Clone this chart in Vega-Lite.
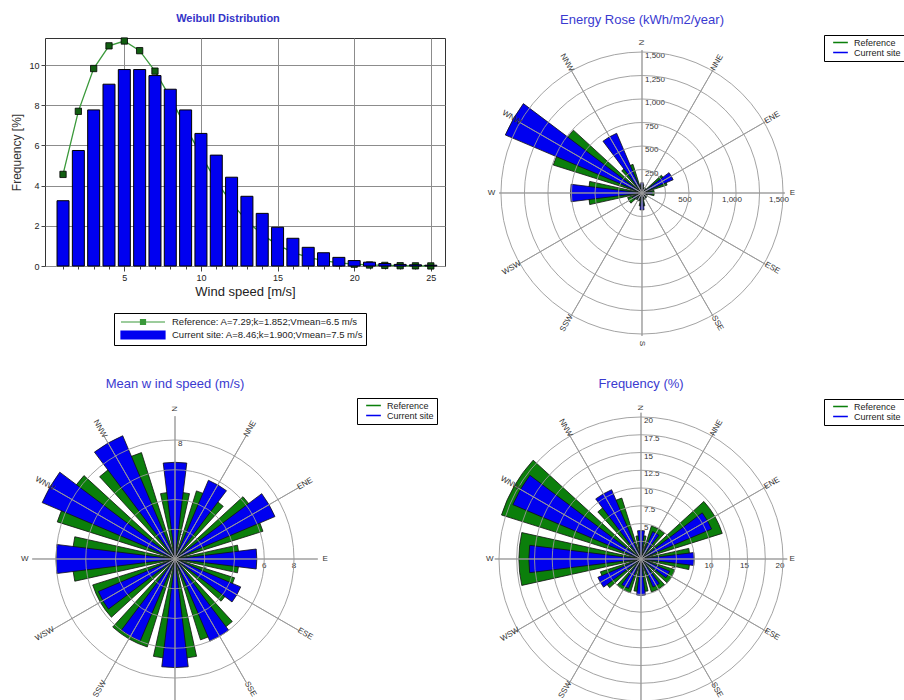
{
  "$schema": "https://vega.github.io/schema/vega-lite/v6.json",
  "padding": {"left": 10, "top": 12, "right": 0, "bottom": 0},
  "background": "white",
  "config": {"font": "Liberation Sans", "view": {"stroke": null}},
  "datasets": {
    "weibull": [
      {"speed": 1, "cur": 3.25, "ref": 4.56}, {"speed": 2, "cur": 5.75, "ref": 7.7}, {"speed": 3, "cur": 7.77, "ref": 9.83},
      {"speed": 4, "cur": 9.05, "ref": 10.96}, {"speed": 5, "cur": 9.78, "ref": 11.2}, {"speed": 6, "cur": 9.78, "ref": 10.72},
      {"speed": 7, "cur": 9.48, "ref": 9.7}, {"speed": 8, "cur": 8.8, "ref": 8.38}, {"speed": 9, "cur": 7.77, "ref": 6.94},
      {"speed": 10, "cur": 6.6, "ref": 5.52}, {"speed": 11, "cur": 5.52, "ref": 4.23}, {"speed": 12, "cur": 4.42, "ref": 3.13},
      {"speed": 13, "cur": 3.47, "ref": 2.25}, {"speed": 14, "cur": 2.62, "ref": 1.56}, {"speed": 15, "cur": 1.93, "ref": 1.05},
      {"speed": 16, "cur": 1.38, "ref": 0.68}, {"speed": 17, "cur": 0.93, "ref": 0.43}, {"speed": 18, "cur": 0.66, "ref": 0.27},
      {"speed": 19, "cur": 0.43, "ref": 0.16}, {"speed": 20, "cur": 0.27, "ref": 0.09}, {"speed": 21, "cur": 0.19, "ref": 0.05},
      {"speed": 22, "cur": 0.12, "ref": 0.03}, {"speed": 23, "cur": 0.08, "ref": 0.015}, {"speed": 24, "cur": 0.06, "ref": 0.008},
      {"speed": 25, "cur": 0.04, "ref": 0.004}
    ],
    "energy": [
      {"dir": "N", "deg": 0, "ref": 90, "cur": 110}, {"dir": "NNE", "deg": 30, "ref": 60, "cur": 50},
      {"dir": "ENE", "deg": 60, "ref": 280, "cur": 360}, {"dir": "E", "deg": 90, "ref": 130, "cur": 110},
      {"dir": "ESE", "deg": 120, "ref": 60, "cur": 50}, {"dir": "SSE", "deg": 150, "ref": 70, "cur": 60},
      {"dir": "S", "deg": 180, "ref": 140, "cur": 180}, {"dir": "SSW", "deg": 210, "ref": 90, "cur": 80},
      {"dir": "WSW", "deg": 240, "ref": 160, "cur": 110}, {"dir": "W", "deg": 270, "ref": 570, "cur": 760},
      {"dir": "WNW", "deg": 300, "ref": 990, "cur": 1580}, {"dir": "NNW", "deg": 330, "ref": 320, "cur": 690}
    ],
    "speed": [
      {"dir": "N", "deg": 0, "ref": 4.5, "cur": 6.5}, {"dir": "NNE", "deg": 30, "ref": 4.8, "cur": 5.75},
      {"dir": "ENE", "deg": 60, "ref": 6.2, "cur": 7.3}, {"dir": "E", "deg": 90, "ref": 4.3, "cur": 5.5},
      {"dir": "ESE", "deg": 120, "ref": 4.2, "cur": 4.8}, {"dir": "SSE", "deg": 150, "ref": 5.7, "cur": 6.0},
      {"dir": "S", "deg": 180, "ref": 6.7, "cur": 7.3}, {"dir": "SSW", "deg": 210, "ref": 6.2, "cur": 6.0},
      {"dir": "WSW", "deg": 240, "ref": 5.8, "cur": 5.6}, {"dir": "W", "deg": 270, "ref": 6.9, "cur": 8.0},
      {"dir": "WNW", "deg": 300, "ref": 8.3, "cur": 9.7}, {"dir": "NNW", "deg": 330, "ref": 7.5, "cur": 9.0}
    ],
    "freq": [
      {"dir": "N", "deg": 0, "ref": 3.3, "cur": 4.0}, {"dir": "NNE", "deg": 30, "ref": 4.9, "cur": 4.2},
      {"dir": "ENE", "deg": 60, "ref": 12.0, "cur": 10.8}, {"dir": "E", "deg": 90, "ref": 6.9, "cur": 7.5},
      {"dir": "ESE", "deg": 120, "ref": 5.0, "cur": 4.4}, {"dir": "SSE", "deg": 150, "ref": 4.9, "cur": 4.3},
      {"dir": "S", "deg": 180, "ref": 4.6, "cur": 5.1}, {"dir": "SSW", "deg": 210, "ref": 5.0, "cur": 4.5},
      {"dir": "WSW", "deg": 240, "ref": 6.0, "cur": 6.6}, {"dir": "W", "deg": 270, "ref": 17.2, "cur": 15.8},
      {"dir": "WNW", "deg": 300, "ref": 20.6, "cur": 19.6}, {"dir": "NNW", "deg": 330, "ref": 9.0, "cur": 10.6}
    ],
    "energyRings": [{"r": 250}, {"r": 500}, {"r": 750}, {"r": 1000}, {"r": 1250}, {"r": 1500}],
    "energyE": [{"r": 500}, {"r": 1000}, {"r": 1500}],
    "speedRings": [{"r": 2}, {"r": 4}, {"r": 6}, {"r": 8}],
    "freqRings": [{"r": 2.5}, {"r": 5}, {"r": 7.5}, {"r": 10}, {"r": 12.5}, {"r": 15}, {"r": 17.5}, {"r": 20}],
    "freqE": [{"r": 5}, {"r": 10}, {"r": 15}, {"r": 20}]
  },
  "columns": 2,
  "spacing": {"row": 32, "column": 20},
  "bounds": "flush",
  "align": "all",
  "resolve": {
    "scale": {"x": "independent", "y": "independent", "color": "independent", "theta": "independent", "radius": "independent", "angle": "independent"},
    "legend": {"color": "independent"}
  },
  "concat": [
    {
      "width": 400, "height": 228,
      "view": {"stroke": "#333"},
      "title": {"text": "Weibull Distribution", "fontSize": 11, "fontWeight": "bold", "color": "#3434c8", "anchor": "middle", "frame": "bounds", "offset": 1, "baseline": "bottom"},
      "data": {"name": "weibull"},
      "encoding": {
        "x": {"field": "speed", "type": "quantitative", "scale": {"domain": [0.15, 25.6], "nice": false, "zero": false},
          "axis": {"values": [1,2,3,4,5,6,7,8,9,10,11,12,13,14,15,16,17,18,19,20,21,22,23,24,25],
            "labelExpr": "datum.value % 5 === 0 ? datum.label : ''", "labelFontSize": 9, "labelColor": "#222", "labelPadding": 2,
            "title": "Wind speed [m/s]", "titleFontSize": 13, "titleFontWeight": "normal", "titleColor": "#222", "titlePadding": 3,
            "tickColor": "#444", "tickSize": {"condition": {"test": "datum.value % 5 === 0", "value": 5}, "value": 3},
            "grid": true, "gridColor": "#8c8c8c", "gridOpacity": {"condition": {"test": "datum.value % 5 === 0", "value": 1}, "value": 0},
            "domain": false, "labelFlush": false, "labelOverlap": false}}
      },
      "layer": [
        {
          "mark": {"type": "line", "strokeWidth": 1.3},
          "encoding": {
            "y": {"field": "ref", "type": "quantitative", "scale": {"domain": [0, 11.35], "nice": false},
              "axis": {"values": [0,0.5,1,1.5,2,2.5,3,3.5,4,4.5,5,5.5,6,6.5,7,7.5,8,8.5,9,9.5,10,10.5,11],
                "labelExpr": "datum.value % 1 === 0 ? datum.label : ''", "labelFontSize": 9, "labelColor": "#222", "labelPadding": 2,
                "title": "Frequency [%]", "titleFontSize": 12, "titleFontWeight": "normal", "titleColor": "#333", "titlePadding": 5,
                "tickColor": "#444", "tickSize": {"condition": {"test": "datum.value % 1 === 0", "value": 4}, "value": 2},
                "grid": true, "gridColor": "#8c8c8c", "gridOpacity": {"condition": {"test": "datum.value % 1 === 0", "value": 1}, "value": 0},
                "domain": false, "labelOverlap": false}},
            "color": {"datum": "Reference: A=7.29;k=1.852;Vmean=6.5 m/s", "type": "nominal",
              "scale": {"domain": ["Reference: A=7.29;k=1.852;Vmean=6.5 m/s", "Current site: A=8.46;k=1.900;Vmean=7.5 m/s"], "range": ["#3a993a", "#0000f0"]},
              "legend": {"orient": "none", "legendX": 69, "legendY": 275, "title": null, "strokeColor": "#000", "fillColor": "white", "padding": 3,
                "labelFontSize": 9.5, "labelLimit": 300, "labelColor": "#222", "symbolSize": 100, "symbolOffset": 20, "labelOffset": 23, "rowPadding": 1,
                "encode": {"symbols": {"update": {
                  "shape": {"signal": "indexof(datum.value, 'Current') === 0 ? 'M-4.4,-0.8H4.4V0.8H-4.4Z' : 'M-4.4,0H-0.5M0.5,0H4.4M-0.5,-0.5H0.5V0.5H-0.5Z'"},
                  "fill": {"signal": "indexof(datum.value, 'Current') === 0 ? '#0000f0' : '#115e11'"},
                  "stroke": {"signal": "indexof(datum.value, 'Current') === 0 ? '#000' : '#3a993a'"},
                  "strokeWidth": {"value": 1.2}, "opacity": {"value": 1}, "fillOpacity": {"value": 1}}}}}}
          }
        },
        {
          "mark": {"type": "point", "shape": "square", "size": 40, "filled": true, "fill": "#115e11", "stroke": "#000", "strokeWidth": 0.8, "opacity": 1},
          "encoding": {"y": {"field": "ref", "type": "quantitative", "title": "Frequency [%]"}}
        },
        {
          "mark": {"type": "bar", "width": 12, "stroke": "#000", "strokeWidth": 1, "orient": "vertical"},
          "encoding": {
            "y": {"field": "cur", "type": "quantitative", "title": "Frequency [%]"},
            "color": {"datum": "Current site: A=8.46;k=1.900;Vmean=7.5 m/s", "type": "nominal"}
          }
        }
      ]
    },
    {
      "width": 354, "height": 310,
      "title": {"text": "Energy Rose (kWh/m2/year)", "fontSize": 13, "fontWeight": "normal", "color": "#3a3ad0", "anchor": "middle", "frame": "group", "offset": -5, "baseline": "bottom"},
      "layer": [
        {"data": {"name": "energyRings"}, "mark": {"type": "text", "align": "left", "baseline": "middle", "dx": 3, "dy": 4, "fontSize": 8, "color": "#333"},
          "encoding": {"theta": {"datum": 0, "type": "quantitative", "scale": {"domain": [0, 360], "range": [0, 6.2832]}},
            "radius": {"field": "r", "type": "quantitative", "stack": null, "scale": {"type": "linear", "domain": [0, 1500], "range": [0, 141], "zero": true, "nice": false}},
            "text": {"field": "r", "type": "quantitative", "format": ","}}},
        {"data": {"name": "energyE"}, "mark": {"type": "text", "align": "center", "baseline": "top", "dx": -4, "dy": 3, "fontSize": 8, "color": "#333"},
          "encoding": {"theta": {"datum": 90, "type": "quantitative"}, "radius": {"field": "r", "type": "quantitative", "stack": null}, "text": {"field": "r", "type": "quantitative", "format": ","}}},
        {"data": {"name": "energy"}, "mark": {"type": "arc", "thetaOffset": -0.2182, "theta2Offset": 0.2182, "stroke": "#111", "strokeWidth": 0.8},
          "encoding": {"theta": {"field": "deg", "type": "quantitative", "stack": null}, "theta2": {"field": "deg"},
            "radius": {"field": "ref", "type": "quantitative", "stack": null},
            "color": {"datum": "Reference", "type": "nominal", "scale": {"domain": ["Reference", "Current site"], "range": ["#0b7f0b", "#0000f0"]},
              "legend": {"orient": "none", "legendX": 359, "legendY": -3, "title": null, "strokeColor": "#000", "fillColor": "white", "padding": 3,
                "labelFontSize": 9, "labelColor": "#222", "symbolType": "M-2.1,-0.22H2.1V0.22H-2.1Z", "symbolSize": 49, "symbolOffset": 9, "labelOffset": 9, "rowPadding": 0,
                "symbolStrokeWidth": 0, "symbolStrokeColor": "transparent", "symbolOpacity": 1}}}},
        {"data": {"name": "energy"}, "mark": {"type": "arc", "thetaOffset": -0.1222, "theta2Offset": 0.1222, "stroke": "#111", "strokeWidth": 0.8},
          "encoding": {"theta": {"field": "deg", "type": "quantitative", "stack": null}, "theta2": {"field": "deg"},
            "radius": {"field": "cur", "type": "quantitative", "stack": null},
            "color": {"datum": "Current site", "type": "nominal"}}},
        {"data": {"name": "energyRings"}, "mark": {"type": "arc", "theta": 0, "theta2": 6.2832, "filled": false, "stroke": "#999", "strokeWidth": 1, "strokeOpacity": 0.9},
          "encoding": {"radius": {"field": "r", "type": "quantitative", "stack": null}}},
        {"data": {"name": "energy"}, "mark": {"type": "arc", "filled": false, "stroke": "#999", "strokeWidth": 1, "strokeOpacity": 0.9},
          "encoding": {"theta": {"field": "deg", "type": "quantitative", "stack": null}, "theta2": {"field": "deg"}, "radius": {"datum": 1520, "type": "quantitative"}}},
        {"data": {"name": "energy"}, "mark": {"type": "text", "align": "center", "baseline": "middle", "fontSize": 8, "color": "#333"},
          "encoding": {"theta": {"field": "deg", "type": "quantitative", "stack": null}, "radius": {"datum": 1600, "type": "quantitative"},
            "text": {"field": "dir", "type": "nominal"},
            "angle": {"field": "deg", "type": "quantitative", "scale": {"domain": [0, 180, 180.01, 360], "range": [-90, 90, -90, 90]}, "legend": null}}}
      ]
    },
    {
      "width": 260, "height": 326,
      "title": {"text": "Mean w ind speed (m/s)", "fontSize": 13, "fontWeight": "normal", "color": "#3a3ad0", "anchor": "middle", "frame": "group", "offset": -8, "baseline": "bottom"},
      "layer": [
        {"data": {"name": "speedRings"}, "mark": {"type": "text", "align": "left", "baseline": "middle", "dx": 3, "dy": 4, "fontSize": 8, "color": "#333"},
          "encoding": {"theta": {"datum": 0, "type": "quantitative", "scale": {"domain": [0, 360], "range": [0, 6.2832]}},
            "radius": {"field": "r", "type": "quantitative", "stack": null, "scale": {"type": "linear", "domain": [0, 8], "range": [0, 119], "zero": true, "nice": false}},
            "text": {"field": "r", "type": "quantitative", "format": "~g"}}},
        {"data": {"name": "speedRings"}, "mark": {"type": "text", "align": "center", "baseline": "top", "dy": 3, "fontSize": 8, "color": "#333"},
          "encoding": {"theta": {"datum": 90, "type": "quantitative"}, "radius": {"field": "r", "type": "quantitative", "stack": null}, "text": {"field": "r", "type": "quantitative", "format": "~g"}}},
        {"data": {"name": "speed"}, "mark": {"type": "arc", "thetaOffset": -0.2182, "theta2Offset": 0.2182, "stroke": "#111", "strokeWidth": 0.8},
          "encoding": {"theta": {"field": "deg", "type": "quantitative", "stack": null}, "theta2": {"field": "deg"},
            "radius": {"field": "ref", "type": "quantitative", "stack": null},
            "color": {"datum": "Reference", "type": "nominal", "scale": {"domain": ["Reference", "Current site"], "range": ["#0b7f0b", "#0000f0"]},
              "legend": {"orient": "none", "legendX": 312, "legendY": 2, "title": null, "strokeColor": "#000", "fillColor": "white", "padding": 3,
                "labelFontSize": 9, "labelColor": "#222", "symbolType": "M-2.1,-0.22H2.1V0.22H-2.1Z", "symbolSize": 49, "symbolOffset": 9, "labelOffset": 9, "rowPadding": 0,
                "symbolStrokeWidth": 0, "symbolStrokeColor": "transparent", "symbolOpacity": 1}}}},
        {"data": {"name": "speed"}, "mark": {"type": "arc", "thetaOffset": -0.1222, "theta2Offset": 0.1222, "stroke": "#111", "strokeWidth": 0.8},
          "encoding": {"theta": {"field": "deg", "type": "quantitative", "stack": null}, "theta2": {"field": "deg"},
            "radius": {"field": "cur", "type": "quantitative", "stack": null},
            "color": {"datum": "Current site", "type": "nominal"}}},
        {"data": {"name": "speedRings"}, "mark": {"type": "arc", "theta": 0, "theta2": 6.2832, "filled": false, "stroke": "#999", "strokeWidth": 1, "strokeOpacity": 0.9},
          "encoding": {"radius": {"field": "r", "type": "quantitative", "stack": null}}},
        {"data": {"name": "speed"}, "mark": {"type": "arc", "filled": false, "stroke": "#999", "strokeWidth": 1, "strokeOpacity": 0.9},
          "encoding": {"theta": {"field": "deg", "type": "quantitative", "stack": null}, "theta2": {"field": "deg"}, "radius": {"datum": 9.6, "type": "quantitative"}}},
        {"data": {"name": "speed"}, "mark": {"type": "text", "align": "center", "baseline": "middle", "fontSize": 8, "color": "#333"},
          "encoding": {"theta": {"field": "deg", "type": "quantitative", "stack": null}, "radius": {"datum": 10.1, "type": "quantitative"},
            "text": {"field": "dir", "type": "nominal"},
            "angle": {"field": "deg", "type": "quantitative", "scale": {"domain": [0, 180, 180.01, 360], "range": [-90, 90, -90, 90]}, "legend": null}}}
      ]
    },
    {
      "width": 352, "height": 326,
      "title": {"text": "Frequency (%)", "fontSize": 13, "fontWeight": "normal", "color": "#3a3ad0", "anchor": "middle", "frame": "group", "offset": -8, "baseline": "bottom"},
      "layer": [
        {"data": {"name": "freqRings"}, "mark": {"type": "text", "align": "left", "baseline": "middle", "dx": 3, "dy": 4, "fontSize": 8, "color": "#333"},
          "encoding": {"theta": {"datum": 0, "type": "quantitative", "scale": {"domain": [0, 360], "range": [0, 6.2832]}},
            "radius": {"field": "r", "type": "quantitative", "stack": null, "scale": {"type": "linear", "domain": [0, 20], "range": [0, 142], "zero": true, "nice": false}},
            "text": {"field": "r", "type": "quantitative", "format": "~g"}}},
        {"data": {"name": "freqE"}, "mark": {"type": "text", "align": "center", "baseline": "top", "dx": -3, "dy": 3, "fontSize": 8, "color": "#333"},
          "encoding": {"theta": {"datum": 90, "type": "quantitative"}, "radius": {"field": "r", "type": "quantitative", "stack": null}, "text": {"field": "r", "type": "quantitative", "format": "~g"}}},
        {"data": {"name": "freq"}, "mark": {"type": "arc", "thetaOffset": -0.2182, "theta2Offset": 0.2182, "stroke": "#111", "strokeWidth": 0.8},
          "encoding": {"theta": {"field": "deg", "type": "quantitative", "stack": null}, "theta2": {"field": "deg"},
            "radius": {"field": "ref", "type": "quantitative", "stack": null},
            "color": {"datum": "Reference", "type": "nominal", "scale": {"domain": ["Reference", "Current site"], "range": ["#0b7f0b", "#0000f0"]},
              "legend": {"orient": "none", "legendX": 359, "legendY": 3, "title": null, "strokeColor": "#000", "fillColor": "white", "padding": 3,
                "labelFontSize": 9, "labelColor": "#222", "symbolType": "M-2.1,-0.22H2.1V0.22H-2.1Z", "symbolSize": 49, "symbolOffset": 9, "labelOffset": 9, "rowPadding": 0,
                "symbolStrokeWidth": 0, "symbolStrokeColor": "transparent", "symbolOpacity": 1}}}},
        {"data": {"name": "freq"}, "mark": {"type": "arc", "thetaOffset": -0.1222, "theta2Offset": 0.1222, "stroke": "#111", "strokeWidth": 0.8},
          "encoding": {"theta": {"field": "deg", "type": "quantitative", "stack": null}, "theta2": {"field": "deg"},
            "radius": {"field": "cur", "type": "quantitative", "stack": null},
            "color": {"datum": "Current site", "type": "nominal"}}},
        {"data": {"name": "freqRings"}, "mark": {"type": "arc", "theta": 0, "theta2": 6.2832, "filled": false, "stroke": "#999", "strokeWidth": 1, "strokeOpacity": 0.9},
          "encoding": {"radius": {"field": "r", "type": "quantitative", "stack": null}}},
        {"data": {"name": "freq"}, "mark": {"type": "arc", "filled": false, "stroke": "#999", "strokeWidth": 1, "strokeOpacity": 0.9},
          "encoding": {"theta": {"field": "deg", "type": "quantitative", "stack": null}, "theta2": {"field": "deg"}, "radius": {"datum": 20.6, "type": "quantitative"}}},
        {"data": {"name": "freq"}, "mark": {"type": "text", "align": "center", "baseline": "middle", "fontSize": 8, "color": "#333"},
          "encoding": {"theta": {"field": "deg", "type": "quantitative", "stack": null}, "radius": {"datum": 21.3, "type": "quantitative"},
            "text": {"field": "dir", "type": "nominal"},
            "angle": {"field": "deg", "type": "quantitative", "scale": {"domain": [0, 180, 180.01, 360], "range": [-90, 90, -90, 90]}, "legend": null}}}
      ]
    }
  ]
}
